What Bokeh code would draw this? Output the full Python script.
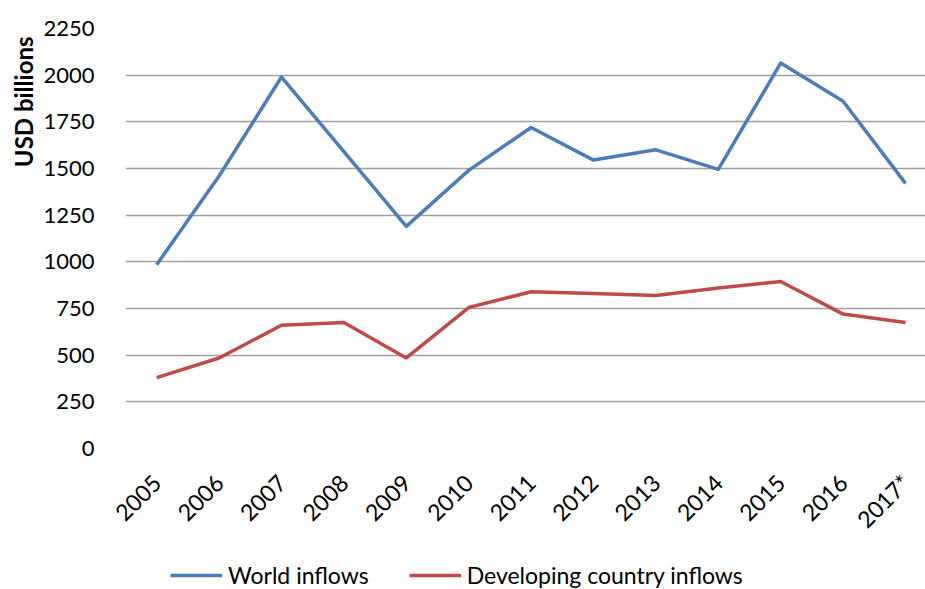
import math
from bokeh.plotting import figure
from bokeh.layouts import column
from bokeh.models import Range1d, FixedTicker, Legend, LegendItem, Title
from bokeh.embed import file_html
from bokeh.resources import INLINE

years = ["2005", "2006", "2007", "2008", "2009", "2010", "2011", "2012",
         "2013", "2014", "2015", "2016", "2017*"]
world_inflows = [985, 1460, 1990, 1590, 1190, 1490, 1720, 1545, 1600, 1495, 2065, 1860, 1420]
developing_inflows = [380, 485, 660, 675, 485, 755, 840, 830, 820, 860, 895, 720, 675]
y_ticks = [0, 250, 500, 750, 1000, 1250, 1500, 1750, 2000, 2250]
series_names = ["World inflows", "Developing country inflows"]

FONT = "Lato"
BLUE = "#4A7EBB"
RED = "#BE4B48"

xs = list(range(len(years)))

p = figure(frame_width=800, frame_height=420, output_backend="svg", toolbar_location=None,
           x_range=Range1d(-0.5, -0.5 + 800 / 62.4), y_range=Range1d(0, 2250),
           min_border_left=125, min_border_top=28, min_border_right=0, min_border_bottom=113)
p.outline_line_color = None
p.background_fill_color = "white"
p.border_fill_color = "white"

p.line(xs, world_inflows, line_color=BLUE, line_width=3.5, line_join="round")
p.line(xs, developing_inflows, line_color=RED, line_width=3.5, line_join="round")

p.xgrid.grid_line_color = None
p.ygrid.grid_line_color = "#A0A0A0"
p.ygrid.grid_line_width = 1.3
p.ygrid.ticker = FixedTicker(ticks=y_ticks)

p.yaxis.ticker = FixedTicker(ticks=y_ticks)
p.yaxis.axis_line_color = None
p.yaxis.major_tick_line_color = None
p.yaxis.minor_tick_line_color = None
p.yaxis.major_label_standoff = 25
p.yaxis.major_label_text_font = FONT
p.yaxis.major_label_text_font_size = "22px"
p.yaxis.major_label_text_color = "black"

p.xaxis.ticker = FixedTicker(ticks=xs)
p.xaxis.major_label_overrides = {i: y for i, y in enumerate(years)}
p.xaxis.major_label_orientation = math.pi / 4
p.xaxis.axis_line_color = None
p.xaxis.major_tick_line_color = None
p.xaxis.minor_tick_line_color = None
p.xaxis.major_label_standoff = 24
p.xaxis.major_label_text_font = FONT
p.xaxis.major_label_text_font_size = "23px"
p.xaxis.major_label_text_color = "black"

ytitle = Title(text="USD billions", align="right", offset=8, standoff=6, text_font=FONT,
               text_font_size="24px", text_font_style="bold", text_color="black")
p.add_layout(ytitle, "left")

# legend strip below the chart (same series; the strip's range keeps them out of view)
p2 = figure(width=925, height=28, output_backend="svg", toolbar_location=None,
            x_range=Range1d(-0.5, -0.5 + 800 / 62.4), y_range=Range1d(-20000, -19000),
            x_axis_type=None, y_axis_type=None,
            min_border_left=0, min_border_top=0, min_border_right=0, min_border_bottom=0)
p2.outline_line_color = None
p2.grid.grid_line_color = None
l1 = p2.line(xs, world_inflows, line_color=BLUE, line_width=3.5)
l2 = p2.line(xs, developing_inflows, line_color=RED, line_width=3.5)
legend = Legend(items=[LegendItem(label=series_names[0], renderers=[l1]),
                       LegendItem(label=series_names[1], renderers=[l2])],
                orientation="horizontal", location=(45, 0),
                label_text_font=FONT, label_text_font_size="23px", label_text_color="black",
                glyph_width=52, glyph_height=26, label_height=26, label_standoff=6, spacing=40,
                border_line_color=None, background_fill_alpha=0, padding=0, margin=0)
p2.add_layout(legend, "center")

layout = column(p, p2, spacing=0)
open("out.html", "w").write(file_html(layout, INLINE))
